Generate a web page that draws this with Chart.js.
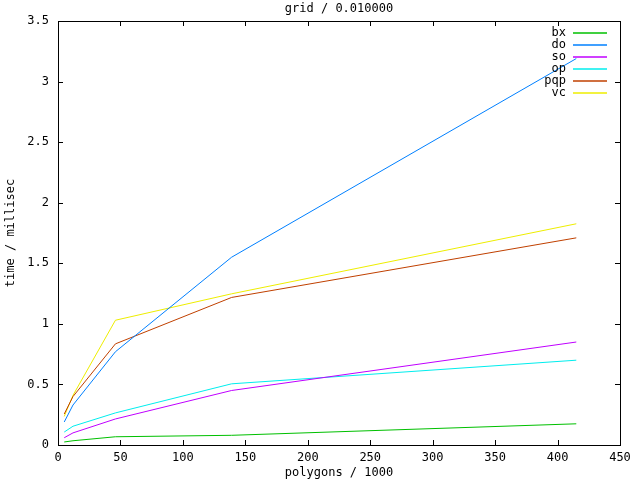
<!DOCTYPE html>
<html>
<head>
<meta charset="utf-8">
<script src="https://cdn.jsdelivr.net/npm/chart.js@4/dist/chart.umd.min.js"></script>
<style>
  html, body { margin: 0; padding: 0; background: #fff; }
  #wrap { width: 640px; height: 480px; }
</style>
</head>
<body>
<div id="wrap"><canvas id="chart" width="640" height="480"></canvas></div>
<script>
// polygon counts (thousands) where each run was timed
const polygons = [5, 12, 46, 139, 415];

// time / millisec per method
const bx  = [0.025, 0.035, 0.068, 0.08, 0.175];
const dO  = [0.19, 0.33, 0.77, 1.55, 3.19];
const so  = [0.06, 0.10, 0.215, 0.45, 0.85];
const op  = [0.107, 0.155, 0.265, 0.505, 0.70];
const pqp = [0.256, 0.40, 0.835, 1.218, 1.71];
const vc  = [0.236, 0.41, 1.03, 1.248, 1.826];

const names = ['bx', 'do', 'so', 'op', 'pqp', 'vc'];
const colors = ['#00c000', '#0080ff', '#c000ff', '#00eeee', '#c04000', '#eeee00'];
const xTicks = [0, 50, 100, 150, 200, 250, 300, 350, 400, 450];
const yTicks = [0, 0.5, 1, 1.5, 2, 2.5, 3, 3.5];

const FONT = '"DejaVu Sans Mono", monospace';

function pts(ys) {
  return polygons.map((x, i) => ({ x: x, y: ys[i] }));
}

const series = [bx, dO, so, op, pqp, vc];

// inward ticks on all borders, the frame, title and the legend, gnuplot-like
const frame = {
  id: 'frame',
  beforeDraw(chart) {
    const c = chart.ctx;
    c.save();
    c.fillStyle = '#fff';
    c.fillRect(0, 0, chart.width, chart.height);
    c.restore();
  },
  afterDraw(chart) {
    const c = chart.ctx;
    const a = chart.chartArea;
    const xs = chart.scales.x, ys = chart.scales.y;
    c.save();
    c.strokeStyle = '#000';
    c.lineWidth = 1;
    c.strokeRect(Math.round(a.left) + 0.5, Math.round(a.top) + 0.5,
                 Math.round(a.right - a.left), Math.round(a.bottom - a.top));
    c.beginPath();
    xTicks.forEach(v => {
      const px = Math.round(xs.getPixelForValue(v)) + 0.5;
      c.moveTo(px, a.bottom); c.lineTo(px, a.bottom - 5);
      c.moveTo(px, a.top); c.lineTo(px, a.top + 5);
    });
    yTicks.forEach(v => {
      const py = Math.round(ys.getPixelForValue(v)) + 0.5;
      c.moveTo(a.left, py); c.lineTo(a.left + 5, py);
      c.moveTo(a.right, py); c.lineTo(a.right - 5, py);
    });
    c.stroke();

    c.fillStyle = '#000';
    c.font = '12px ' + FONT;
    c.textAlign = 'center';
    c.textBaseline = 'middle';
    c.fillText('grid / 0.010000', (a.left + a.right) / 2, 9);

    // legend
    c.textAlign = 'right';
    chart.data.datasets.forEach((ds, i) => {
      const y = 33 + i * 12;
      c.fillStyle = '#000';
      c.fillText(ds.label, 566, y);
      c.strokeStyle = colors[i];
      c.lineWidth = 1.5;
      c.beginPath();
      c.moveTo(573, y);
      c.lineTo(607, y);
      c.stroke();
    });
    c.restore();
  }
};

new Chart(document.getElementById('chart'), {
  type: 'line',
  data: {
    datasets: series.map((s, i) => ({
      label: names[i],
      data: pts(s),
      borderColor: colors[i],
      backgroundColor: colors[i],
      borderWidth: 1,
      pointRadius: 0,
      tension: 0,
      fill: false
    }))
  },
  options: {
    responsive: false,
    animation: false,
    layout: { padding: { top: 21, right: 20, left: 0, bottom: 0 } },
    plugins: {
      legend: { display: false },
      title: { display: false },
      tooltip: { enabled: false }
    },
    scales: {
      x: {
        type: 'linear',
        min: 0, max: 450,
        afterFit(s) { s.height = 35; },
        afterBuildTicks(s) { s.ticks = xTicks.map(v => ({ value: v })); },
        grid: { display: false, drawTicks: false },
        border: { display: true, color: '#000' },
        ticks: { color: '#000', padding: 6, maxRotation: 0, font: { family: FONT, size: 12 },
                 callback: v => String(v) },
        title: { display: true, text: 'polygons / 1000', color: '#000', padding: { top: 0, bottom: 0 }, font: { family: FONT, size: 12 } }
      },
      y: {
        type: 'linear',
        min: 0, max: 3.5,
        afterFit(s) { s.width = 58; },
        afterBuildTicks(s) { s.ticks = yTicks.map(v => ({ value: v })); },
        grid: { display: false, drawTicks: false },
        border: { display: true, color: '#000' },
        ticks: { color: '#000', padding: 9, font: { family: FONT, size: 12 },
                 callback: v => String(v) },
        title: { display: true, text: 'time / millisec', color: '#000', padding: { top: 4, bottom: 0 }, font: { family: FONT, size: 12 } }
      }
    }
  },
  plugins: [frame]
});
</script>
</body>
</html>
